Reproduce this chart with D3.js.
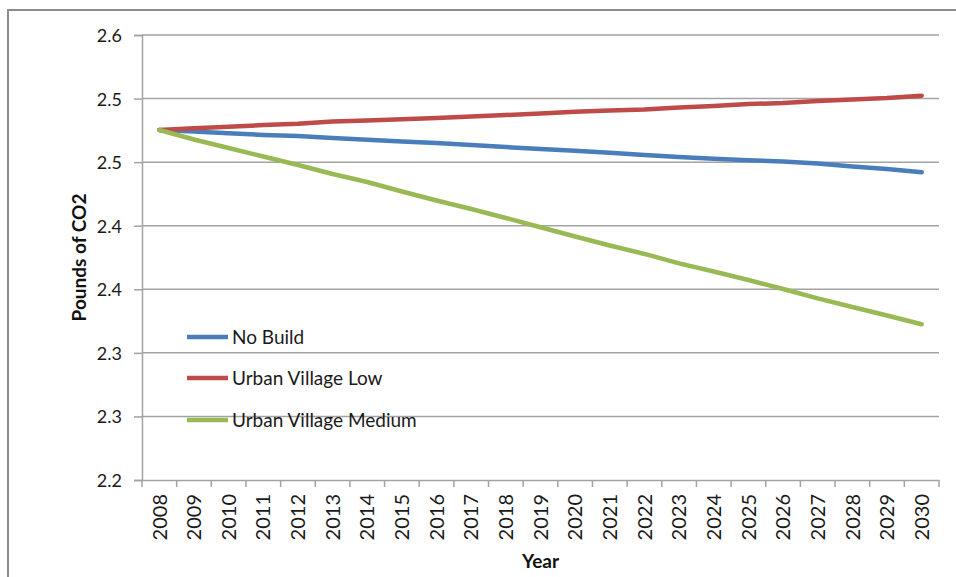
<!DOCTYPE html>
<html>
<head>
<meta charset="utf-8">
<script src="https://cdn.jsdelivr.net/npm/d3@7"></script>
<style>
  html, body { margin: 0; padding: 0; background: #fff; }
  svg { display: block; font-family: Lato, "Open Sans", sans-serif; }
</style>
</head>
<body>
<svg id="chart" width="956" height="577"></svg>
<script>
// ---- data ----
const years = ["2008","2009","2010","2011","2012","2013","2014","2015","2016","2017","2018","2019",
               "2020","2021","2022","2023","2024","2025","2026","2027","2028","2029","2030"];
const noBuild = [2.5253,2.5241,2.5227,2.5214,2.5206,2.5190,2.5176,2.5162,2.5151,2.5135,2.5119,2.5103,
                 2.5089,2.5074,2.5056,2.5040,2.5026,2.5015,2.5005,2.4989,2.4966,2.4946,2.4920];
const urbanLow = [2.5253,2.5266,2.5278,2.5292,2.5302,2.5320,2.5328,2.5337,2.5347,2.5359,2.5371,2.5383,
                  2.5396,2.5406,2.5414,2.5430,2.5442,2.5457,2.5465,2.5481,2.5493,2.5504,2.5523];
const urbanMedium = [2.5253,2.5178,2.5111,2.5044,2.4978,2.4907,2.4844,2.4769,2.4698,2.4631,2.4561,2.4488,
                     2.4415,2.4344,2.4278,2.4204,2.4140,2.4073,2.4002,2.3928,2.3861,2.3794,2.3725];
const seriesNames = ["No Build","Urban Village Low","Urban Village Medium"];
const yTicks = [2.6,2.55,2.5,2.45,2.4,2.35,2.3,2.25];
const yTickLabels = ["2.6","2.5","2.5","2.4","2.4","2.3","2.3","2.2"];
const yDomain = [2.25, 2.6];
const xTitle = "Year";
const yTitle = "Pounds of CO2";

// ---- layout / style ----
const colors = ["#4a7ebb","#be4b48","#98b954"];
const gridColor = "#a3a3a3";
const textColor = "#1a1a1a";
const plot = {left: 142, right: 939, top: 35, bottom: 480};

const svg = d3.select("#chart");

// outer frame
svg.append("rect").attr("x", 8).attr("y", 10).attr("width", 980).attr("height", 620)
  .attr("fill", "none").attr("stroke", "#8c8c8c").attr("stroke-width", 2);

const x = d3.scaleBand().domain(years).range([plot.left, plot.right]).paddingInner(0).paddingOuter(0);
const y = d3.scaleLinear().domain(yDomain).range([plot.bottom, plot.top]);
const cx = d => x(d) + x.bandwidth() / 2;

// gridlines
svg.append("g").selectAll("line").data(yTicks.filter(t => t !== yDomain[0])).join("line")
  .attr("x1", plot.left).attr("x2", plot.right)
  .attr("y1", d => y(d)).attr("y2", d => y(d))
  .attr("stroke", gridColor).attr("stroke-width", 1.5);

// y axis
const yAxis = svg.append("g").attr("transform", `translate(${plot.left},0)`)
  .call(d3.axisLeft(y).tickValues(yTicks).tickFormat((d, i) => yTickLabels[i]).tickSize(8).tickPadding(12));
yAxis.select(".domain").attr("stroke", gridColor).attr("stroke-width", 1.5);
yAxis.selectAll(".tick line").attr("stroke", gridColor).attr("stroke-width", 1.5);
yAxis.selectAll(".tick text").attr("font-family", "Lato, sans-serif").attr("font-size", 18)
  .attr("fill", textColor).attr("dy", "0.36em");

// x axis
const xAxis = svg.append("g").attr("transform", `translate(0,${plot.bottom})`)
  .call(d3.axisBottom(x).tickSize(0).tickPadding(0));
xAxis.select(".domain").attr("stroke", gridColor).attr("stroke-width", 1.5);
xAxis.selectAll(".tick text")
  .attr("font-family", "Lato, sans-serif").attr("font-size", 20).attr("fill", textColor)
  .attr("text-anchor", "end").attr("y", 0).attr("x", 0)
  .attr("transform", "translate(0,14) rotate(-90)")
  .attr("dy", "0.36em");
// x tick marks at category boundaries
const bounds = years.map(d => x(d)).concat([plot.right]);
xAxis.append("g").selectAll("line").data(bounds).join("line")
  .attr("x1", d => d).attr("x2", d => d).attr("y1", 0).attr("y2", 7)
  .attr("stroke", gridColor).attr("stroke-width", 1.5);

// series
const allSeries = [noBuild, urbanLow, urbanMedium];
const line = d3.line().x((d, i) => cx(years[i])).y(d => y(d));
allSeries.forEach((s, k) => {
  svg.append("path").datum(s).attr("d", line)
    .attr("fill", "none").attr("stroke", colors[k]).attr("stroke-width", 4.5)
    .attr("stroke-linecap", "round").attr("stroke-linejoin", "round");
});

// legend
const legendY = [337, 378, 420];
const legend = svg.append("g");
seriesNames.forEach((name, k) => {
  legend.append("line").attr("x1", 187).attr("x2", 228).attr("y1", legendY[k]).attr("y2", legendY[k])
    .attr("stroke", colors[k]).attr("stroke-width", 4.5);
  legend.append("text").attr("x", 232).attr("y", legendY[k]).attr("dy", "0.35em")
    .attr("font-size", 19).attr("fill", textColor).text(name);
});

// axis titles
svg.append("text").attr("x", (plot.left + plot.right) / 2).attr("y", 568)
  .attr("text-anchor", "middle").attr("font-size", 19).attr("font-weight", "bold").attr("fill", "#111")
  .text(xTitle);
svg.append("text").attr("transform", `translate(79,${(plot.top + plot.bottom) / 2}) rotate(-90)`)
  .attr("text-anchor", "middle").attr("dy", "0.36em").attr("font-size", 19).attr("font-weight", "bold").attr("fill", "#111")
  .text(yTitle);
</script>
</body>
</html>
